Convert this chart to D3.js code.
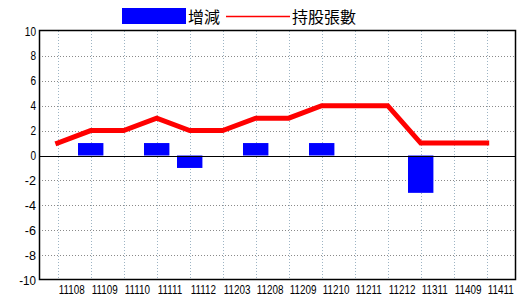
<!DOCTYPE html>
<html>
<head>
<meta charset="utf-8">
<script src="https://cdn.jsdelivr.net/npm/d3@7"></script>
<style>
  body { margin: 0; background: #fff; }
  svg text { font-family: "Liberation Sans", Arial, sans-serif; }
</style>
</head>
<body>
<svg width="520" height="300"></svg>
<script>
const categories = ['11108', '11109', '11110', '11111', '11112', '11203', '11208',
  '11209', '11210', '11211', '11212', '11311', '11409', '11411'];
const changeValues = [0, 1, 0, 1, -1, 0, 1, 0, 1, 0, 0, -3, 0, 0];
const holdingValues = [1, 2, 2, 3, 2, 2, 3, 3, 4, 4, 4, 1, 1, 1];
const yTicks = [-10, -8, -6, -4, -2, 0, 2, 4, 6, 8, 10];

const svg = d3.select('svg');
const plotL = 39, plotR = 516, plotT = 31, plotB = 280;

const x = d3.scalePoint()
  .domain(categories)
  .range([57.7, 486.7]);

const y = d3.scaleLinear()
  .domain([-10, 10])
  .range([plotB, plotT]);

const barW = x.step() * 0.77;

// grid
svg.append('g')
  .selectAll('line')
  .data(yTicks.filter(d => d !== 0 && d !== 10 && d !== -10))
  .enter().append('line')
    .attr('x1', plotL).attr('x2', plotR)
    .attr('y1', d => Math.round(y(d)) + 0.5)
    .attr('y2', d => Math.round(y(d)) + 0.5)
    .attr('stroke', '#8a8a8a')
    .attr('stroke-dasharray', '1,2');

svg.append('g')
  .selectAll('line')
  .data(categories)
  .enter().append('line')
    .attr('x1', d => Math.round(x(d)) + 0.5)
    .attr('x2', d => Math.round(x(d)) + 0.5)
    .attr('y1', plotT).attr('y2', plotB)
    .attr('stroke', '#9db4c4')
    .attr('stroke-dasharray', '1,2');

// bars
svg.append('g')
  .selectAll('rect')
  .data(categories.map((c, i) => ({ c, v: changeValues[i] })).filter(d => d.v !== 0))
  .enter().append('rect')
    .attr('x', d => x(d.c) - barW / 2)
    .attr('width', barW)
    .attr('y', d => y(Math.max(0, d.v)))
    .attr('height', d => Math.abs(y(d.v) - y(0)))
    .attr('fill', '#0000ff');

// zero line
svg.append('line')
  .attr('x1', plotL).attr('x2', plotR)
  .attr('y1', Math.round(y(0)) + 0.5).attr('y2', Math.round(y(0)) + 0.5)
  .attr('stroke', '#000');

// holdings line
const line = d3.line()
  .x((d, i) => x(categories[i]))
  .y(d => y(d));

svg.append('path')
  .datum(holdingValues)
  .attr('d', line)
  .attr('fill', 'none')
  .attr('stroke', '#ff0000')
  .attr('stroke-width', 5)
  .attr('stroke-linecap', 'square');

// frame
svg.append('rect')
  .attr('x', plotL + 0.5).attr('y', plotT - 0.5)
  .attr('width', plotR - plotL - 1).attr('height', plotB - plotT)
  .attr('fill', 'none')
  .attr('stroke', '#000')
  .attr('stroke-width', 1.5);

// y labels
svg.append('g')
  .selectAll('text')
  .data(yTicks)
  .enter().append('text')
    .attr('x', 36)
    .attr('y', d => y(d) + 4.5)
    .attr('text-anchor', 'end')
    .attr('font-size', 13)
    .attr('textLength', d => String(d).length * 5.6)
    .attr('lengthAdjust', 'spacingAndGlyphs')
    .text(d => d);

// x labels (squeezed horizontally, the source font is narrow)
svg.append('g')
  .selectAll('text')
  .data(categories)
  .enter().append('text')
    .attr('transform', d => `translate(${x(d) + 1},294) scale(0.733,1)`)
    .attr('font-size', 13.5)
    .text(d => d);

// legend
const legend = svg.append('g');
legend.append('rect')
  .attr('x', 122).attr('y', 8)
  .attr('width', 64).attr('height', 16)
  .attr('fill', '#0000ff');
legend.append('text')
  .attr('x', 188).attr('y', 23)
  .attr('font-size', 16)
  .style('font-family', '"Noto Sans CJK TC", sans-serif')
  .text('增減');
legend.append('line')
  .attr('x1', 226).attr('x2', 290)
  .attr('y1', 16.5).attr('y2', 16.5)
  .attr('stroke', '#ff0000')
  .attr('stroke-width', 1.5);
legend.append('text')
  .attr('x', 292).attr('y', 23)
  .attr('font-size', 16)
  .style('font-family', '"Noto Sans CJK TC", sans-serif')
  .text('持股張數');
</script>
</body>
</html>
